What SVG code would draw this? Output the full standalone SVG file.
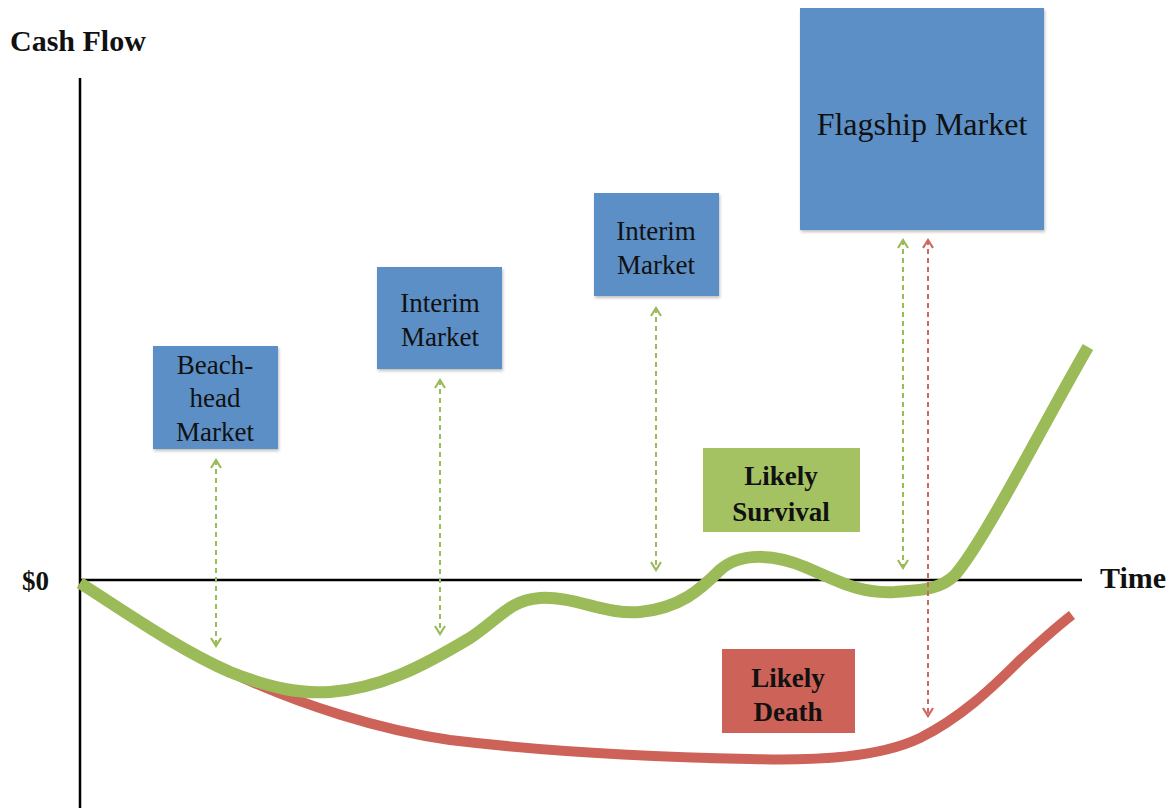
<svg xmlns="http://www.w3.org/2000/svg" width="1175" height="811" viewBox="0 0 1175 811">
  <style>
    text { font-family: "Liberation Serif", "Times New Roman", Times, "DejaVu Serif", serif; }
    .lbl { fill: #111; text-anchor: middle; }
    .box { font-size: 27px; }
    .bold { font-weight: bold; }
    .blue { fill: #5B8FC5; }
    .axis { stroke: #000; stroke-width: 2.5; fill: none; }
    .g-arrow { stroke: #9BBB59; stroke-width: 2; stroke-dasharray: 5 4; fill: none; }
    .r-arrow { stroke: #D0675F; stroke-width: 2; stroke-dasharray: 5 4; fill: none; }
  </style>
  <defs>
    <marker id="gh" viewBox="0 0 12 12" refX="10" refY="6" markerWidth="12" markerHeight="12" markerUnits="userSpaceOnUse" orient="auto-start-reverse">
      <path d="M2,1 L10,6 L2,11" fill="none" stroke="#9BBB59" stroke-width="2.2"/>
    </marker>
    <marker id="rh" viewBox="0 0 12 12" refX="10" refY="6" markerWidth="12" markerHeight="12" markerUnits="userSpaceOnUse" orient="auto-start-reverse">
      <path d="M2,1 L10,6 L2,11" fill="none" stroke="#D0675F" stroke-width="2.2"/>
    </marker>
    <filter id="sh" x="-10%" y="-10%" width="125%" height="125%">
      <feDropShadow dx="1" dy="2" stdDeviation="1.5" flood-color="#000" flood-opacity="0.25"/>
    </filter>
  </defs>
  <rect width="1175" height="811" fill="#fff"/>

  <g id="axes">
    <line class="axis" x1="80" y1="78" x2="80" y2="808"/>
    <line class="axis" x1="80" y1="580" x2="1082" y2="580"/>
    <text class="lbl bold" x="10" y="51" font-size="30" style="text-anchor:start">Cash Flow</text>
    <text class="lbl bold" x="22" y="590" font-size="27" style="text-anchor:start">$0</text>
    <text class="lbl bold" x="1100" y="588" font-size="30" style="text-anchor:start">Time</text>
  </g>

  <g id="curves">
    <path d="M80,583 C130,615 180,650 230,672 C300,705 380,730 450,740 C550,752 650,757 750,759 C820,761 880,757 920,738 C960,718 990,690 1020,660 C1040,642 1055,628 1072,615" fill="none" stroke="#CD6258" stroke-width="10"/>
    <path d="M80,583 C130,615 180,650 230,672 C270,688 300,694 330,692 C380,688 420,668 470,638 C500,618 510,600 540,598 C575,596 605,615 640,612 C680,608 700,590 720,570 C740,552 775,554 805,567 C840,582 860,594 895,592 C920,590 940,590 955,575 C985,540 1040,430 1088,347" fill="none" stroke="#9BBB59" stroke-width="12"/>
  </g>

  <g id="connectors">
    <line class="g-arrow" x1="216" y1="460" x2="216" y2="646" marker-start="url(#gh)" marker-end="url(#gh)"/>
    <line class="g-arrow" x1="440" y1="380" x2="440" y2="634" marker-start="url(#gh)" marker-end="url(#gh)"/>
    <line class="g-arrow" x1="656" y1="308" x2="656" y2="570" marker-start="url(#gh)" marker-end="url(#gh)"/>
    <line class="g-arrow" x1="903" y1="240" x2="903" y2="568" marker-start="url(#gh)" marker-end="url(#gh)"/>
    <line class="r-arrow" x1="928" y1="240" x2="928" y2="716" marker-start="url(#rh)" marker-end="url(#rh)"/>
  </g>

  <g id="beachhead">
    <rect class="blue" x="153" y="346" width="125" height="103" filter="url(#sh)"/>
    <text class="lbl box" x="215" y="374">Beach-</text>
    <text class="lbl box" x="215" y="407">head</text>
    <text class="lbl box" x="215" y="441">Market</text>
  </g>

  <g id="interim1">
    <rect class="blue" x="377" y="267" width="125" height="102" filter="url(#sh)"/>
    <text class="lbl box" x="440" y="312">Interim</text>
    <text class="lbl box" x="440" y="346">Market</text>
  </g>

  <g id="interim2">
    <rect class="blue" x="594" y="193" width="125" height="103" filter="url(#sh)"/>
    <text class="lbl box" x="656" y="240">Interim</text>
    <text class="lbl box" x="656" y="274">Market</text>
  </g>

  <g id="flagship">
    <rect class="blue" x="800" y="8" width="244" height="222" filter="url(#sh)"/>
    <text class="lbl" x="922" y="135" font-size="32">Flagship Market</text>
  </g>

  <g id="survival">
    <rect x="703" y="448" width="157" height="84" fill="#A5C262"/>
    <text class="lbl box bold" x="781" y="485">Likely</text>
    <text class="lbl box bold" x="781" y="521">Survival</text>
  </g>

  <g id="death">
    <rect x="722" y="649" width="133" height="84" fill="#CD6258"/>
    <text class="lbl box bold" x="788" y="687">Likely</text>
    <text class="lbl box bold" x="788" y="721">Death</text>
  </g>
</svg>
